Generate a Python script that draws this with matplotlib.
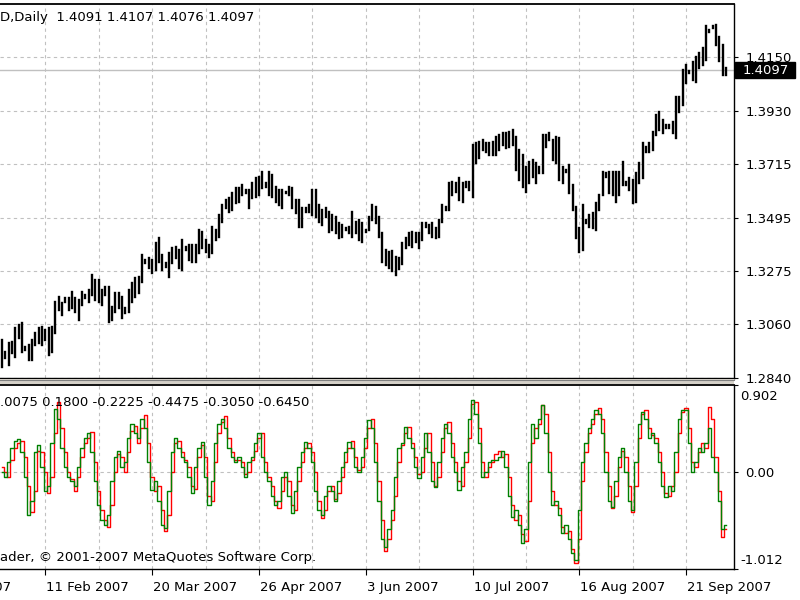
import matplotlib
matplotlib.use('Agg')
import matplotlib.pyplot as plt
import matplotlib.transforms as mtransforms
from matplotlib.patches import Rectangle
import numpy as np

# EURUSD daily bars, 26 Jan 2007 .. 5 Oct 2007
high = [1.2994, 1.2946, 1.2980, 1.2987, 1.3042, 1.3055, 1.3062, 1.2967, 1.2974, 1.2994,
        1.3021, 1.3042, 1.3048, 1.3035, 1.3042, 1.3048, 1.3151, 1.3171, 1.3144, 1.3164,
        1.3164, 1.3192, 1.3164, 1.3158, 1.3192, 1.3178, 1.3198, 1.3260, 1.3240, 1.3240,
        1.3198, 1.3212, 1.3212, 1.3130, 1.3185, 1.3185, 1.3171, 1.3124, 1.3198, 1.3226,
        1.3246, 1.3253, 1.3342, 1.3321, 1.3328, 1.3321, 1.3389, 1.3410, 1.3342, 1.3307,
        1.3348, 1.3369, 1.3376, 1.3362, 1.3403, 1.3376, 1.3382, 1.3382, 1.3382, 1.3444,
        1.3437, 1.3403, 1.3382, 1.3458, 1.3444, 1.3505, 1.3546, 1.3567, 1.3573, 1.3594,
        1.3614, 1.3614, 1.3628, 1.3607, 1.3607, 1.3635, 1.3655, 1.3662, 1.3683, 1.3635,
        1.3679, 1.3669, 1.3621, 1.3607, 1.3607, 1.3600, 1.3621, 1.3614, 1.3567, 1.3567,
        1.3533, 1.3533, 1.3546, 1.3607, 1.3607, 1.3546, 1.3526, 1.3533, 1.3519, 1.3505,
        1.3498, 1.3471, 1.3464, 1.3451, 1.3458, 1.3519, 1.3478, 1.3485, 1.3471, 1.3444,
        1.3498, 1.3546, 1.3539, 1.3498, 1.3430, 1.3362, 1.3355, 1.3360, 1.3335, 1.3330,
        1.3389, 1.3410, 1.3430, 1.3437, 1.3430, 1.3430, 1.3471, 1.3471, 1.3464, 1.3471,
        1.3451, 1.3485, 1.3546, 1.3539, 1.3635, 1.3641, 1.3635, 1.3655, 1.3635, 1.3641,
        1.3641, 1.3791, 1.3798, 1.3805, 1.3812, 1.3798, 1.3798, 1.3805, 1.3826, 1.3832,
        1.3839, 1.3839, 1.3846, 1.3853, 1.3826, 1.3771, 1.3750, 1.3703, 1.3723, 1.3730,
        1.3716, 1.3703, 1.3832, 1.3832, 1.3839, 1.3812, 1.3826, 1.3819, 1.3703, 1.3689,
        1.3710, 1.3628, 1.3539, 1.3451, 1.3546, 1.3485, 1.3505, 1.3512, 1.3553, 1.3587,
        1.3682, 1.3675, 1.3682, 1.3682, 1.3682, 1.3682, 1.3723, 1.3641, 1.3655, 1.3648,
        1.3675, 1.3716, 1.3798, 1.3785, 1.3798, 1.3846, 1.3914, 1.3928, 1.3894, 1.3873,
        1.3873, 1.3887, 1.3989, 1.3989, 1.4098, 1.4119, 1.4092, 1.4132, 1.4153, 1.4167,
        1.4187, 1.4276, 1.4262, 1.4276, 1.4282, 1.4235, 1.4201, 1.4107]
low = [1.2885, 1.2919, 1.2892, 1.2940, 1.2926, 1.3001, 1.2946, 1.2953, 1.2912, 1.2912,
       1.2974, 1.2980, 1.2974, 1.2994, 1.2933, 1.2946, 1.3021, 1.3117, 1.3096, 1.3151,
       1.3117, 1.3124, 1.3110, 1.3076, 1.3137, 1.3164, 1.3151, 1.3178, 1.3158, 1.3151,
       1.3137, 1.3178, 1.3069, 1.3076, 1.3110, 1.3124, 1.3083, 1.3103, 1.3110, 1.3151,
       1.3171, 1.3185, 1.3233, 1.3307, 1.3287, 1.3267, 1.3280, 1.3314, 1.3280, 1.3294,
       1.3253, 1.3307, 1.3328, 1.3287, 1.3280, 1.3362, 1.3321, 1.3314, 1.3314, 1.3348,
       1.3369, 1.3355, 1.3335, 1.3348, 1.3403, 1.3417, 1.3478, 1.3533, 1.3519, 1.3526,
       1.3553, 1.3560, 1.3587, 1.3594, 1.3533, 1.3573, 1.3580, 1.3587, 1.3614, 1.3621,
       1.3587, 1.3580, 1.3560, 1.3546, 1.3533, 1.3594, 1.3587, 1.3533, 1.3512, 1.3458,
       1.3458, 1.3519, 1.3519, 1.3505, 1.3498, 1.3478, 1.3465, 1.3498, 1.3437, 1.3444,
       1.3430, 1.3410, 1.3417, 1.3444, 1.3430, 1.3417, 1.3430, 1.3403, 1.3396, 1.3437,
       1.3444, 1.3485, 1.3471, 1.3417, 1.3315, 1.3300, 1.3290, 1.3275, 1.3260, 1.3285,
       1.3305, 1.3369, 1.3382, 1.3376, 1.3396, 1.3369, 1.3403, 1.3458, 1.3430, 1.3417,
       1.3410, 1.3417, 1.3478, 1.3526, 1.3526, 1.3587, 1.3601, 1.3567, 1.3560, 1.3621,
       1.3607, 1.3580, 1.3716, 1.3737, 1.3771, 1.3764, 1.3750, 1.3750, 1.3750, 1.3771,
       1.3791, 1.3778, 1.3785, 1.3791, 1.3689, 1.3648, 1.3621, 1.3601, 1.3635, 1.3662,
       1.3635, 1.3675, 1.3675, 1.3784, 1.3812, 1.3730, 1.3716, 1.3648, 1.3635, 1.3682,
       1.3594, 1.3526, 1.3410, 1.3355, 1.3362, 1.3471, 1.3458, 1.3451, 1.3444, 1.3526,
       1.3587, 1.3662, 1.3594, 1.3587, 1.3560, 1.3587, 1.3628, 1.3628, 1.3607, 1.3553,
       1.3560, 1.3635, 1.3655, 1.3764, 1.3764, 1.3771, 1.3832, 1.3853, 1.3839, 1.3860,
       1.3860, 1.3839, 1.3819, 1.3928, 1.3955, 1.4044, 1.4085, 1.4057, 1.4051, 1.4105,
       1.4119, 1.4139, 1.4255, 1.4269, 1.4201, 1.4133, 1.4078, 1.4076]

# oscillator window, two drawn buffers
green = [0.00, -0.05, 0.10, 0.25, 0.32, 0.34, 0.20, -0.05, -0.45, -0.30,
         0.20, 0.28, 0.05, -0.20, -0.15, 0.30, 0.65, 0.55, 0.25, 0.05,
         -0.05, -0.10, -0.15, 0.05, 0.25, 0.35, 0.40, 0.20, -0.10, -0.35,
         -0.50, -0.55, -0.45, -0.10, 0.15, 0.22, 0.05, 0.10, 0.35, 0.50,
         0.40, 0.35, 0.55, 0.45, 0.10, -0.19, -0.10, -0.30, -0.55, -0.59,
         -0.20, 0.20, 0.35, 0.25, 0.15, 0.10, -0.05, -0.22, 0.05, 0.25,
         0.31, -0.05, -0.35, -0.10, 0.30, 0.50, 0.55, 0.45, 0.25, 0.15,
         0.10, 0.15, 0.05, -0.05, 0.10, 0.15, 0.30, 0.40, 0.15, 0.00,
         -0.10, -0.25, -0.35, -0.30, -0.05, 0.00, -0.25, -0.43, -0.20, 0.05,
         0.20, 0.31, 0.25, 0.10, -0.20, -0.40, -0.45, -0.25, -0.15, -0.20,
         -0.30, -0.10, 0.05, 0.20, 0.31, 0.25, 0.05, 0.00, 0.15, 0.35,
         0.54, 0.45, 0.10, -0.30, -0.70, -0.78, -0.60, -0.40, -0.05, 0.25,
         0.30, 0.46, 0.35, 0.25, 0.05, -0.07, 0.15, 0.40, 0.20, -0.10,
         -0.16, 0.10, 0.35, 0.50, 0.40, 0.15, 0.00, -0.19, 0.05, 0.20,
         0.55, 0.75, 0.60, 0.30, -0.05, 0.00, 0.10, 0.12, 0.12, 0.15,
         0.22, 0.05, -0.25, -0.47, -0.40, -0.55, -0.74, -0.60, 0.10, 0.50,
         0.35, 0.55, 0.69, 0.40, 0.00, -0.35, -0.30, -0.45, -0.64, -0.55,
         -0.70, -0.85, -0.92, -0.40, 0.10, 0.30, 0.45, 0.55, 0.64, 0.60,
         0.40, 0.00, -0.30, -0.37, -0.10, 0.15, 0.25, 0.00, -0.30, -0.40,
         0.10, 0.50, 0.62, 0.55, 0.35, 0.40, 0.30, 0.10, -0.15, -0.26,
         -0.15, -0.20, 0.20, 0.55, 0.64, 0.64, 0.30, 0.00, 0.10, 0.25,
         0.20, 0.30, 0.45, 0.15, 0.00, -0.30, -0.60, -0.55]
red = [0.05, 0.00, -0.05, 0.12, 0.25, 0.30, 0.32, 0.15, -0.15, -0.42,
       -0.20, 0.22, 0.20, 0.00, -0.22, -0.05, 0.40, 0.72, 0.45, 0.20,
       0.00, -0.08, -0.20, -0.05, 0.15, 0.30, 0.35, 0.41, 0.10, -0.20,
       -0.40, -0.50, -0.58, -0.35, 0.00, 0.18, 0.15, 0.00, 0.20, 0.42,
       0.48, 0.30, 0.45, 0.59, 0.30, -0.05, -0.20, -0.15, -0.40, -0.62,
       -0.45, 0.00, 0.30, 0.32, 0.20, 0.12, 0.05, -0.15, -0.18, 0.15,
       0.28, 0.15, -0.25, -0.30, 0.10, 0.40, 0.52, 0.58, 0.35, 0.20,
       0.12, 0.12, 0.10, -0.02, 0.00, 0.12, 0.22, 0.35, 0.40, 0.10,
       -0.05, -0.15, -0.30, -0.38, -0.20, -0.05, -0.10, -0.35, -0.40, -0.10,
       0.10, 0.25, 0.30, 0.20, 0.00, -0.30, -0.48, -0.40, -0.20, -0.15,
       -0.28, -0.22, -0.05, 0.10, 0.25, 0.32, 0.15, 0.02, 0.05, 0.25,
       0.45, 0.55, 0.30, -0.10, -0.50, -0.82, -0.70, -0.50, -0.25, 0.10,
       0.28, 0.40, 0.46, 0.30, 0.15, -0.02, 0.00, 0.25, 0.40, 0.10,
       -0.15, -0.05, 0.20, 0.45, 0.52, 0.30, 0.10, -0.10, -0.15, 0.10,
       0.35, 0.70, 0.72, 0.45, 0.10, -0.05, 0.05, 0.10, 0.18, 0.22,
       0.15, 0.18, -0.05, -0.35, -0.50, -0.45, -0.65, -0.72, -0.30, 0.30,
       0.45, 0.50, 0.69, 0.60, 0.20, -0.20, -0.35, -0.38, -0.58, -0.64,
       -0.62, -0.80, -0.95, -0.70, -0.10, 0.20, 0.40, 0.50, 0.60, 0.66,
       0.55, 0.20, -0.15, -0.38, -0.25, 0.05, 0.22, 0.15, -0.15, -0.42,
       -0.15, 0.35, 0.60, 0.64, 0.45, 0.38, 0.35, 0.20, 0.00, -0.22,
       -0.25, -0.15, 0.00, 0.40, 0.62, 0.66, 0.45, 0.10, 0.05, 0.20,
       0.30, 0.25, 0.67, 0.55, 0.15, -0.20, -0.68, -0.60]

price_levels = [1.2840, 1.3060, 1.3275, 1.3495, 1.3715, 1.3930, 1.4150]
osc_min, osc_max = -1.012, 0.902
last_ohlc = [1.4091, 1.4107, 1.4076, 1.4097]
osc_buffers = ['.0075', '0.1800', '-0.2225', '-0.4475', '-0.3050', '-0.6450']
date_bars = [-19, 13, 45, 77, 109, 141, 173, 205]
date_labels = ['4 Jan 2007', '11 Feb 2007', '20 Mar 2007', '26 Apr 2007',
               '3 Jun 2007', '10 Jul 2007', '16 Aug 2007', '21 Sep 2007']
grid_step = 16

plt.rcParams['font.family'] = 'DejaVu Sans'
FS = 9.5
GRID = '#c0c0c0'

W, H = 800, 600
fig = plt.figure(figsize=(8, 6), dpi=100)
fig.patch.set_facecolor('white')

# panel geometry in pixels
right_px = 734
top1, bot1 = 4, 378
top2, bot2 = 385, 569

ax1 = fig.add_axes([0, 1 - bot1 / H, right_px / W, (bot1 - top1) / H])
ax2 = fig.add_axes([0, 1 - bot2 / H, right_px / W, (bot2 - top2) / H])

n = len(high)
x = np.arange(n)
xlim = (-0.6, 219.36)
grid_bars = np.arange(date_bars[1] - grid_step, n, grid_step)

for ax in (ax1, ax2):
    ax.set_xlim(*xlim)
    ax.set_facecolor('white')
    ax.spines['left'].set_visible(False)
    for s in ('top', 'right', 'bottom'):
        ax.spines[s].set_color('black')
        ax.spines[s].set_linewidth(1.0)
    for gx in grid_bars:
        ax.axvline(gx, color=GRID, lw=0.8, ls=(0, (3, 3)), zorder=0)
    ax.yaxis.tick_right()
    ax.tick_params(axis='y', direction='out', length=3, width=0.8, pad=5,
                   labelsize=FS, colors='black')
    ax.tick_params(axis='x', bottom=False, labelbottom=False)
    ax.spines['top'].set_linewidth(1.3)

# price panel
ax1.set_ylim(1.28388, 1.43679)
for lv in price_levels:
    ax1.axhline(lv, color=GRID, lw=0.8, ls=(0, (3, 3)), zorder=0)
ax1.axhline(last_ohlc[3], color='#c0c0c0', lw=1.0, zorder=1)
bars = ax1.vlines(x, low, high, color='black', lw=1.7, zorder=3)
bars.set_capstyle('projecting')
ax1.set_yticks(price_levels)
ax1.set_yticklabels(['%.4f' % v for v in price_levels])

# last price box
btr = mtransforms.blended_transform_factory(ax1.transAxes, ax1.transData)
ax1.add_patch(Rectangle((1.0015, last_ohlc[3] - 0.0033), 0.082, 0.0066,
                        transform=btr, clip_on=False, fc='black', ec='black', zorder=5))
ax1.text(1.0 + 9 / right_px, last_ohlc[3], '%.4f' % last_ohlc[3], transform=btr,
         color='white', fontsize=FS, va='center', ha='left', zorder=6, clip_on=False)

# oscillator panel
ax2.set_ylim(osc_min, osc_max)
ax2.axhline(0, color=GRID, lw=0.8, ls=(0, (3, 3)), zorder=0)
ax2.plot(x, red, color='#ff0000', lw=1.0, drawstyle='steps-mid', zorder=3)
ax2.plot(x, green, color='#008000', lw=1.0, drawstyle='steps-mid', zorder=3)
ax2.set_yticks([osc_min, 0, osc_max])
ax2.set_yticklabels(['', '0.00', ''])
otr = mtransforms.blended_transform_factory(ax2.transAxes, ax2.transData)
lab_x = 1.0 + 6 / right_px
ax2.text(lab_x, osc_max, '%.3f' % osc_max, fontsize=FS, ha='left', va='center', clip_on=False,
         transform=otr + mtransforms.ScaledTranslation(0, -11 / 100, fig.dpi_scale_trans))
ax2.text(lab_x, osc_min, '%.3f' % osc_min, fontsize=FS, ha='left', va='center', clip_on=False,
         transform=otr + mtransforms.ScaledTranslation(0, 9 / 100, fig.dpi_scale_trans))

# date axis
vis = [b for b in date_bars if xlim[0] <= b <= xlim[1]]
ax2.set_xticks(vis)
ax2.tick_params(axis='x', bottom=True, direction='out', length=4, width=0.8)
dtr = mtransforms.blended_transform_factory(ax2.transData, ax2.transAxes)
for b, lab in zip(date_bars, date_labels):
    ax2.text(b + 0.3, -0.098, lab, transform=dtr, fontsize=FS, ha='left',
             va='center', clip_on=False)

# separator between the windows
fig.patches.append(Rectangle((0, 1 - 384 / H), right_px / W, 5 / H,
                             transform=fig.transFigure, fc='#d4d0c8', ec='none'))
fig.add_artist(plt.Line2D([0, right_px / W], [1 - 379.5 / H] * 2, color='#808080', lw=0.8))

# header texts
fig.text(0.0, 1 - 17 / H, 'D,Daily  ' + ' '.join('%.4f' % v for v in last_ohlc),
         fontsize=FS, va='center', ha='left')
fig.text(0.0, 1 - 402 / H, ' '.join(osc_buffers), fontsize=FS, va='center', ha='left')
fig.text(0.0, 1 - 558 / H, 'ader, \u00a9 2001-2007 MetaQuotes Software Corp.',
         fontsize=FS, va='center', ha='left')

fig.savefig('out.png', dpi=100, facecolor='white')
